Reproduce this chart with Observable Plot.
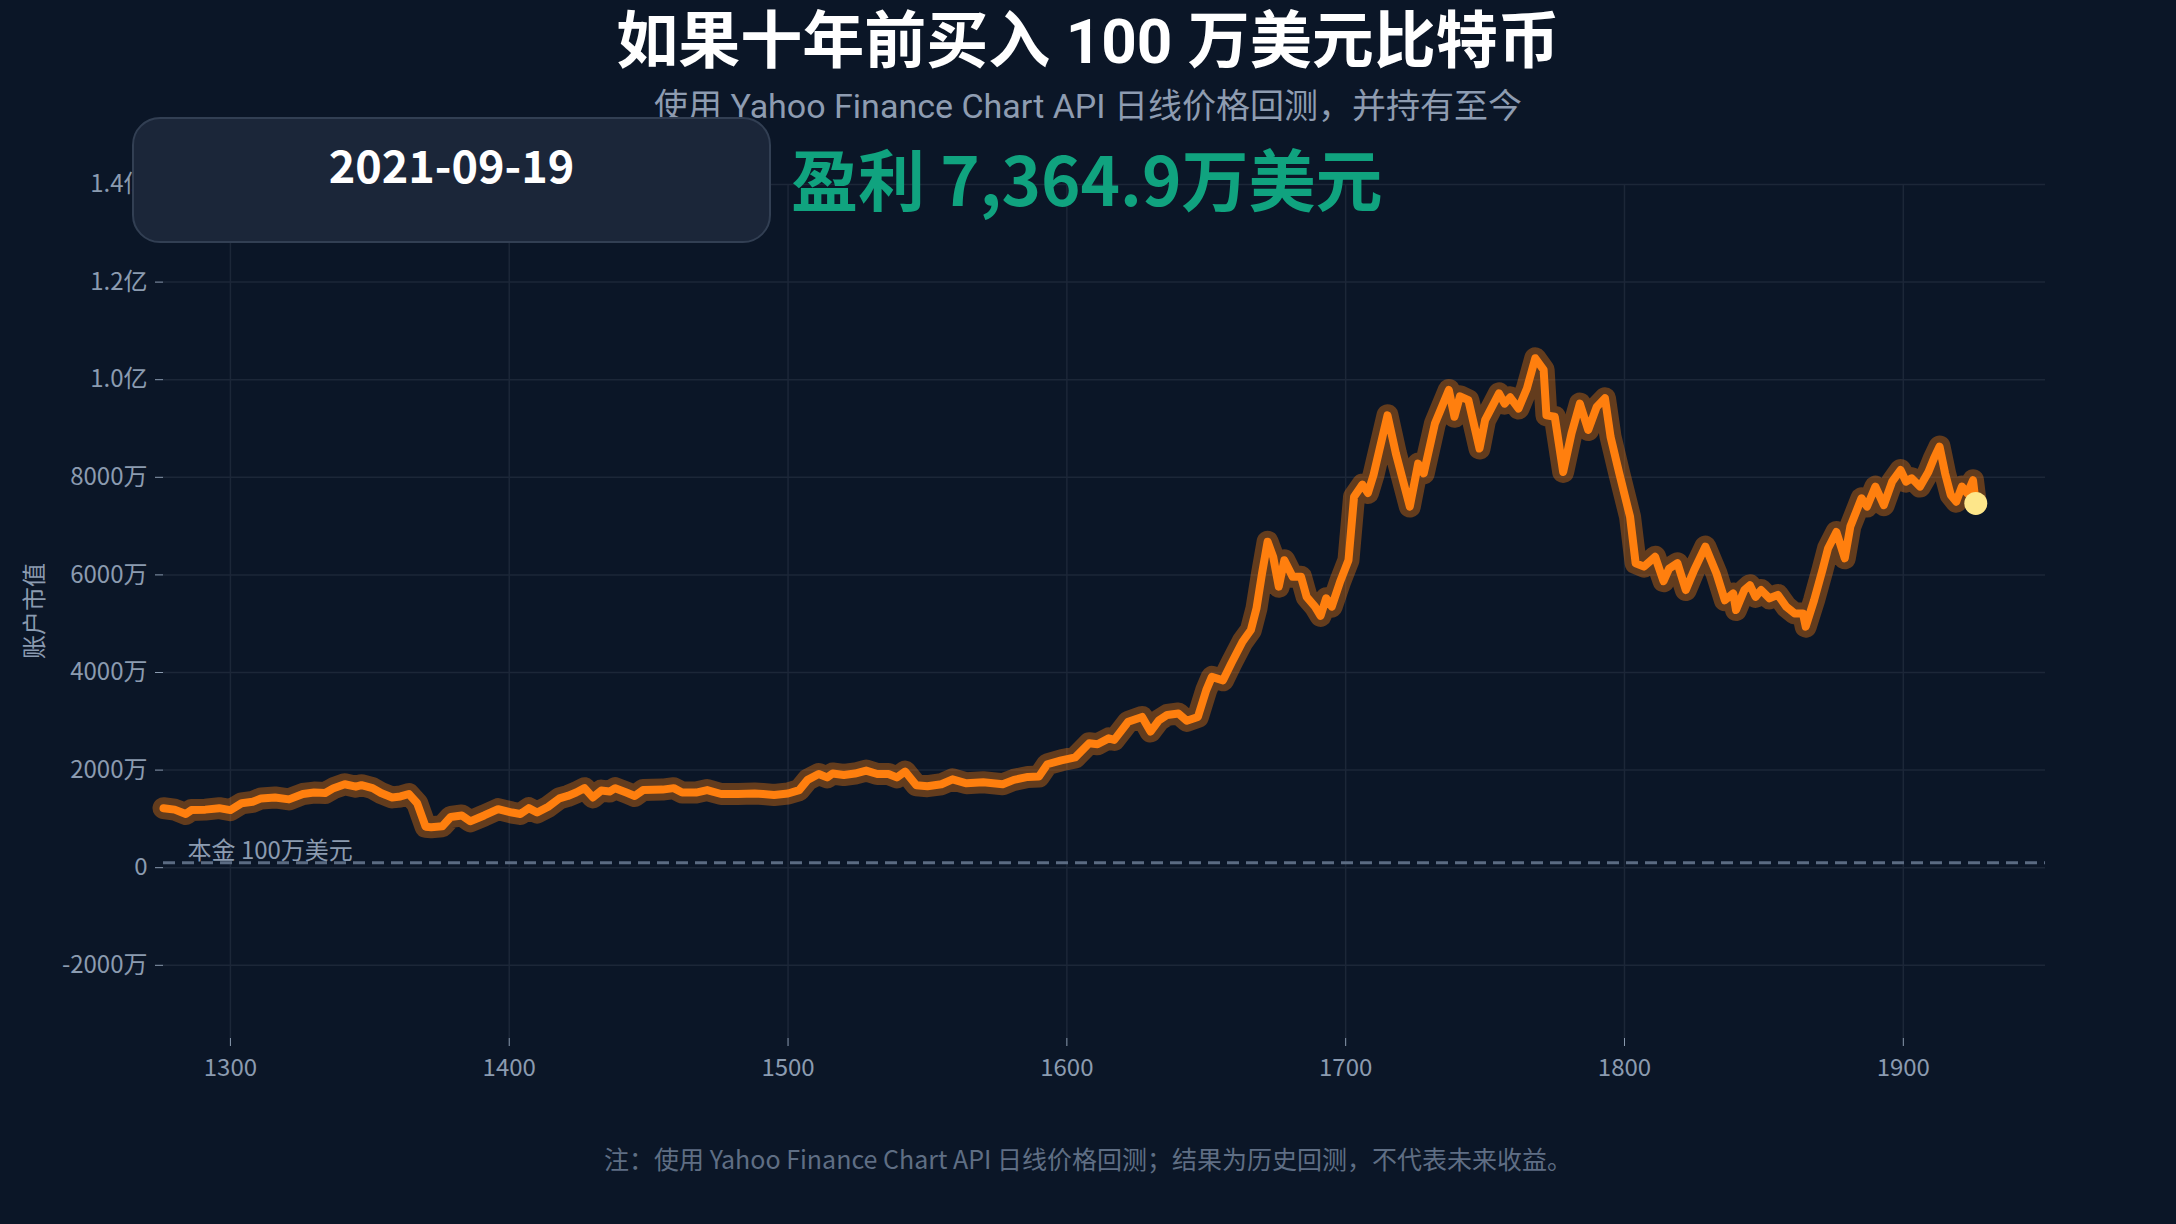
<!DOCTYPE html>
<html>
<head>
<meta charset="utf-8">
<script src="https://cdn.jsdelivr.net/npm/d3@7"></script>
<script src="https://cdn.jsdelivr.net/npm/@observablehq/plot@0.6"></script>
<style>
  html, body { margin: 0; padding: 0; background: #0b1627; }
  #stage {
    position: relative; width: 2176px; height: 1224px; overflow: hidden;
    background: #0b1627; font-family: "Noto Sans CJK SC", "Noto Sans", sans-serif;
  }
  #stage .abs { position: absolute; white-space: nowrap; }
  #title { left: 0; width: 2176px; text-align: center; top: 11px; font-family: Roboto, "Noto Sans CJK SC", sans-serif; font-size: 62px; line-height: 62px; font-weight: 700; color: #ffffff; }
  #subtitle { left: 0; width: 2176px; text-align: center; top: 89px; font-family: Roboto, "Noto Sans CJK SC", sans-serif; font-size: 34px; line-height: 34px; color: #8e9cb1; }
  #datebox { left: 132px; top: 117px; width: 635px; height: 122px; border-radius: 28px; background: #1b2639; border: 2px solid #323f53; }
  #date { left: 132px; width: 639px; text-align: center; top: 141px; font-size: 45px; line-height: 45px; font-weight: 700; color: #ffffff; }
  #profit { left: 791px; top: 143px; font-size: 67px; line-height: 67px; font-weight: 700; color: #10a37f; }
  #ylabel { left: 33px; top: 611px; font-size: 24px; line-height: 24px; color: #8b9bb0; transform: translate(-50%, -50%) rotate(-90deg); }
  #caption { left: 0; width: 2176px; text-align: center; top: 1146px; font-size: 25px; line-height: 25px; color: #5f6e84; }
  #chart { position: absolute; left: 0; top: 0; }
</style>
</head>
<body>
<div id="stage">
  <div id="chart"></div>
  <div class="abs" id="title"></div>
  <div class="abs" id="subtitle"></div>
  <div class="abs" id="datebox"></div>
  <div class="abs" id="date"></div>
  <div class="abs" id="profit"></div>
  <div class="abs" id="ylabel"></div>
  <div class="abs" id="caption"></div>
</div>
<script>
// Text
const titleText = "如果十年前买入 100 万美元比特币";
const subtitleText = "使用 Yahoo Finance Chart API 日线价格回测，并持有至今";
const captionText = "注：使用 Yahoo Finance Chart API 日线价格回测；结果为历史回测，不代表未来收益。";
const yAxisLabel = "账户市值";
const currentDate = "2021-09-19";

// Initial investment (USD)
const principal = 1000000;

// Trading-day index since purchase
const dayIndex = [
  1276, 1280, 1284, 1286, 1291, 1296, 1300, 1304, 1308, 1311,
  1316, 1321, 1326, 1330, 1334, 1337, 1341, 1345, 1347, 1351,
  1354, 1358, 1361, 1364, 1367, 1370, 1372, 1376, 1379, 1383,
  1386, 1391, 1396, 1401, 1404, 1407, 1410, 1414, 1418, 1421,
  1424, 1427, 1430, 1433, 1436, 1438, 1442, 1445, 1448, 1455,
  1459, 1462, 1467, 1471, 1476, 1482, 1488, 1491, 1495, 1500,
  1504, 1507, 1511, 1514, 1516, 1520, 1524, 1528, 1532, 1536,
  1539, 1542, 1546, 1550, 1555, 1559, 1564, 1570, 1577, 1581,
  1586, 1590, 1593, 1598, 1603, 1608, 1611, 1615, 1617, 1622,
  1627, 1630, 1633, 1636, 1640, 1643, 1647, 1650, 1652, 1656,
  1659, 1663, 1666, 1668, 1670, 1672, 1674, 1676, 1678, 1681,
  1684, 1686, 1689, 1691, 1693, 1695, 1698, 1701, 1703, 1706,
  1708, 1710, 1715, 1718, 1723, 1726, 1728, 1732, 1737, 1739,
  1741, 1744, 1748, 1750, 1755, 1757, 1759, 1762, 1765, 1768,
  1771, 1772, 1775, 1778, 1781, 1784, 1787, 1790, 1793, 1795,
  1798, 1802, 1804, 1807, 1811, 1814, 1816, 1819, 1822, 1825,
  1829, 1833, 1836, 1839, 1840, 1843, 1845, 1847, 1849, 1852,
  1855, 1858, 1861, 1864, 1865, 1868, 1871, 1873, 1876, 1879,
  1881, 1885, 1887, 1890, 1893, 1896, 1899, 1901, 1903, 1906,
  1909, 1911, 1913, 1915, 1917, 1919, 1921, 1923, 1925, 1926
];

// Account value, millions of USD
const accountValueM = [
  12.2, 11.9, 11.0, 11.8, 11.9, 12.2, 11.8, 13.2, 13.5, 14.2,
  14.4, 14.0, 15.1, 15.4, 15.3, 16.3, 17.1, 16.6, 16.9, 16.3,
  15.3, 14.4, 14.6, 15.1, 13.2, 8.4, 8.3, 8.5, 10.4, 10.7,
  9.5, 10.7, 12.0, 11.3, 11.0, 12.2, 11.3, 12.5, 14.2, 14.7,
  15.4, 16.3, 14.4, 15.8, 15.6, 16.3, 15.4, 14.7, 15.9, 16.0,
  16.3, 15.4, 15.4, 15.9, 15.1, 15.1, 15.2, 15.1, 14.9, 15.2,
  15.9, 18.0, 19.2, 18.5, 19.3, 19.0, 19.3, 19.9, 19.2, 19.2,
  18.5, 19.7, 16.9, 16.7, 17.1, 18.1, 17.3, 17.5, 17.1, 18.0,
  18.6, 18.7, 21.2, 22.0, 22.6, 25.5, 25.3, 26.5, 26.2, 29.9,
  30.9, 27.9, 30.2, 31.3, 31.6, 30.1, 30.9, 36.4, 39.1, 38.4,
  41.9, 46.3, 48.7, 53.1, 60.3, 66.8, 63.7, 57.6, 63.0, 59.6,
  59.6, 55.5, 53.5, 51.6, 55.2, 53.5, 58.6, 63.0, 76.0, 78.5,
  76.8, 80.5, 92.7, 84.9, 74.0, 82.8, 80.8, 91.0, 97.9, 92.4,
  96.6, 95.8, 85.9, 91.7, 97.2, 95.1, 96.4, 94.1, 98.2, 104.4,
  102.0, 92.7, 92.4, 81.1, 89.0, 95.1, 89.7, 94.4, 96.2, 88.3,
  81.1, 71.9, 62.4, 61.7, 63.7, 58.7, 61.3, 62.4, 56.9, 61.0,
  65.8, 60.3, 54.8, 56.2, 52.8, 56.9, 57.9, 55.5, 56.9, 55.2,
  55.9, 53.5, 52.1, 52.1, 49.4, 54.8, 61.0, 65.4, 68.8, 63.4,
  69.9, 75.7, 74.0, 78.1, 74.3, 79.1, 81.5, 79.1, 79.8, 78.1,
  81.1, 83.9, 86.3, 80.8, 76.4, 75.0, 78.1, 76.7, 79.4, 74.649
];

// Axis ticks
const xTicks = [1300, 1400, 1500, 1600, 1700, 1800, 1900];
const yTicks = [-20e6, 0, 20e6, 40e6, 60e6, 80e6, 100e6, 120e6, 140e6];

const rows = dayIndex.map((day, k) => ({ day, value: accountValueM[k] * 1e6 }));
const last = rows[rows.length - 1];
const profit = last.value - principal;

// Chinese number units: 亿 above 1e8, 万 otherwise
const formatCny = v => {
  if (v === 0) return "0";
  if (Math.abs(v) >= 1e8) return (v / 1e8).toFixed(1) + "亿";
  return Math.round(v / 1e4) + "万";
};

document.getElementById("title").textContent = titleText;
document.getElementById("subtitle").textContent = subtitleText;
document.getElementById("caption").textContent = captionText;
document.getElementById("ylabel").textContent = yAxisLabel;
document.getElementById("date").textContent = currentDate;
document.getElementById("profit").textContent =
  (profit >= 0 ? "盈利 " : "亏损 ") + d3.format(",.1f")(Math.abs(profit) / 1e4) + "万美元";

const orange = "#ff7f0e";
const gridColor = "#1c2738";

const chart = Plot.plot({
  width: 2176,
  height: 1224,
  marginLeft: 163,
  marginRight: 131,
  marginTop: 184,
  marginBottom: 186,
  style: {
    background: "transparent",
    color: "#8b9bb0",
    fontSize: "24px",
    fontFamily: "\"Noto Sans CJK SC\", \"Noto Sans\", sans-serif"
  },
  x: { domain: [1276, 1951] },
  y: { domain: [-35e6, 140e6] },
  marks: [
    Plot.gridX(xTicks, { stroke: gridColor, strokeOpacity: 1, strokeWidth: 1.5 }),
    Plot.gridY(yTicks, { stroke: gridColor, strokeOpacity: 1, strokeWidth: 1.5 }),
    Plot.axisX(xTicks, { tickSize: 8, tickPadding: 12, label: null, tickFormat: d => String(d), stroke: "#8b9bb0", fill: "#8b9bb0" }),
    Plot.axisY(yTicks, { tickSize: 8, tickPadding: 8, label: null, tickFormat: formatCny, stroke: "#8b9bb0", fill: "#8b9bb0" }),
    // principal baseline
    Plot.ruleY([principal], { stroke: "#5b6b82", strokeWidth: 3, strokeDasharray: "12,7" }),
    Plot.text([principal], {
      y: d => d,
      frameAnchor: "left",
      textAnchor: "start",
      dx: 24,
      dy: -12,
      text: d => `本金 ${d / 1e4}万美元`,
      fill: "#8b9bb0",
      fontSize: 24
    }),
    // glow + core line
    Plot.line(rows, {
      x: "day", y: "value", stroke: orange, strokeOpacity: 0.36,
      strokeWidth: 22, strokeLinejoin: "round", strokeLinecap: "round"
    }),
    Plot.line(rows, {
      x: "day", y: "value", stroke: orange,
      strokeWidth: 8, strokeLinejoin: "round", strokeLinecap: "round"
    }),
    Plot.dot([last], { x: "day", y: "value", r: 11.5, fill: "#fde68a", stroke: "none" })
  ]
});

document.getElementById("chart").appendChild(chart);
</script>
</body>
</html>
